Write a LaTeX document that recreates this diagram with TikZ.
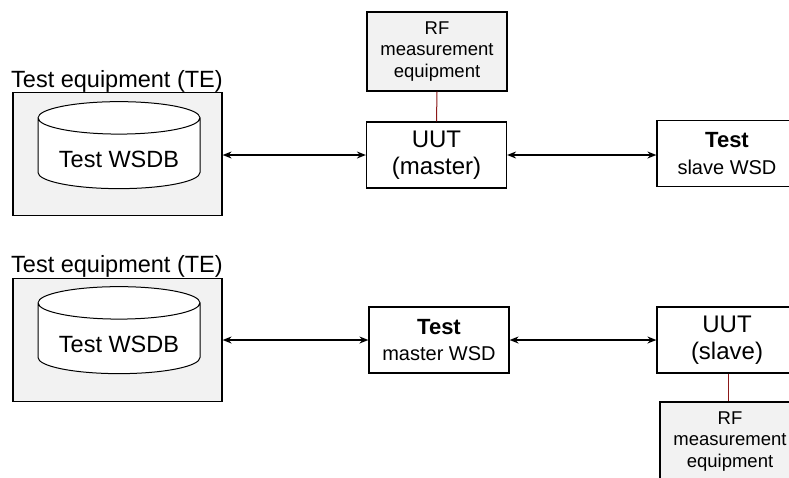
\documentclass[tikz,border=0pt]{standalone}
\usepackage{fontspec}
\setmainfont{Liberation Sans}
\usetikzlibrary{positioning,shapes.geometric,arrows.meta}
\definecolor{boxgray}{RGB}{242,242,242}
\definecolor{linkred}{RGB}{140,25,25}

\begin{document}
\begin{tikzpicture}
    [x=1pt,y=-1pt,every node/.style={inner sep=0pt, align=center},
     box/.style={draw, line width=1.2pt, fill=white, minimum width=140pt, minimum height=66pt},
     rfbox/.style={box, fill=boxgray, minimum height=79pt, font=\fontsize{18.5}{21.5}\selectfont},
     tebox/.style={draw, line width=1.2pt, fill=boxgray, minimum width=209pt, minimum height=123pt},
     db/.style={draw, line width=1pt, fill=white, cylinder, shape border rotate=90, aspect=0.27,
                minimum width=162pt, minimum height=87pt, font=\fontsize{23.5}{27}\selectfont},
     bigtext/.style={font=\fontsize{24}{27}\selectfont},
     wsdtext/.style={font=\fontsize{20}{26.5}\selectfont},
     tetext/.style={anchor=base west, font=\fontsize{23.5}{27}\selectfont},
     link/.style={arrows={Stealth[length=9pt,width=7pt]-Stealth[length=9pt,width=7pt]}, line width=1.4pt},
     rfline/.style={linkred, line width=1pt}]
  \clip (0,0) rectangle (789,477);

  % upper set-up: UUT acting as master
  \node[tetext] (telabel1) at (11,87) {Test equipment (TE)};
  \node[tebox] (te1) at (117.5,154) {};
  \node[db] (db1) at (119,153.5) {\raisebox{-14pt}[0pt][0pt]{Test WSDB}};
  \node[rfbox] (rf1) at (437,51.5) {RF\\measurement\\equipment};
  \node[box, bigtext] (uut1) at (436.5,155) {UUT\\(master)};
  \node[box, wsdtext] (slave1) at (727,153.5) {{\fontsize{22}{26}\selectfont\bfseries Test}\\slave WSD};

  \draw[link] (te1.east |- uut1.west) -- (uut1.west);
  \draw[link] (uut1.east) -- (uut1.east -| slave1.west);
  \draw[rfline] (rf1.south) -- (uut1.north);

  % lower set-up: UUT acting as slave
  \node[tetext] (telabel2) at (11,272) {Test equipment (TE)};
  \node[tebox] (te2) at (117.5,340) {};
  \node[db] (db2) at (119,338.5) {\raisebox{-14pt}[0pt][0pt]{Test WSDB}};
  \node[box, wsdtext] (master2) at (439,340) {{\fontsize{22}{26}\selectfont\bfseries Test}\\master WSD};
  \node[box, bigtext] (uut2) at (727,340) {UUT\\(slave)};
  \node[rfbox] (rf2) at (730,441.5) {RF\\measurement\\equipment};
  \coordinate (rfx) at (728,0);

  \draw[link] (te2.east) -- (master2.west);
  \draw[link] (master2.east) -- (uut2.west);
  \draw[rfline] (rfx |- uut2.south) -- (rfx |- rf2.north);
\end{tikzpicture}
\end{document}
